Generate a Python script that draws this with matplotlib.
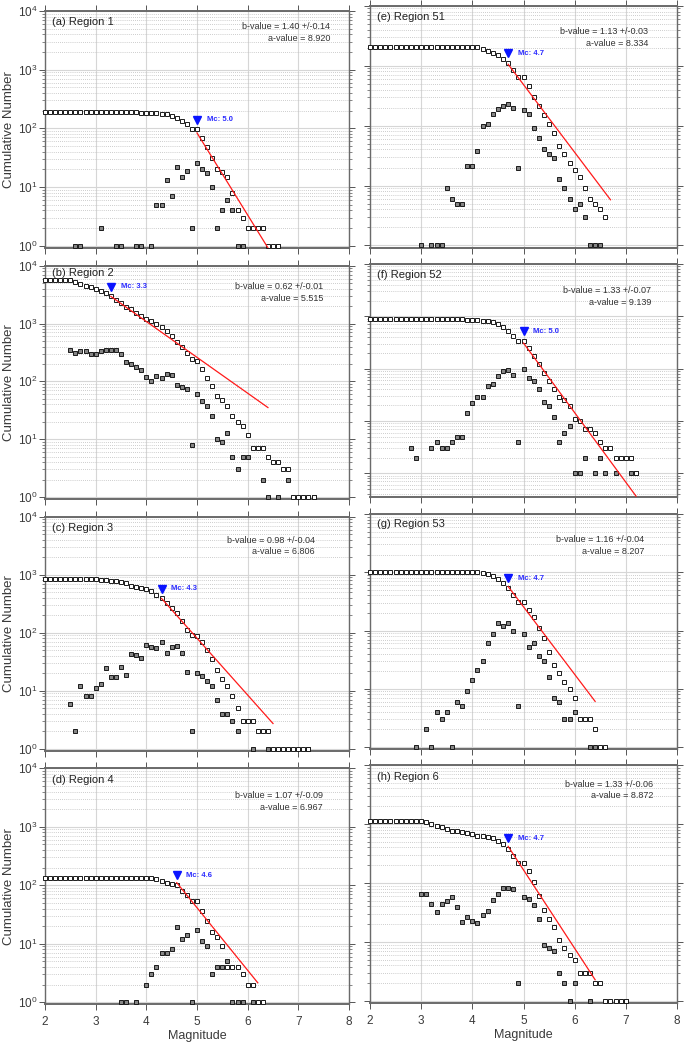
import matplotlib
matplotlib.use('Agg')
import matplotlib.pyplot as plt
import numpy as np
from matplotlib.ticker import FixedLocator, FixedFormatter, LogLocator, NullFormatter

plt.rcParams['font.family'] = ['Liberation Sans', 'DejaVu Sans']
plt.rcParams['mathtext.fontset'] = 'custom'
plt.rcParams['mathtext.rm'] = 'Liberation Sans'
plt.rcParams['mathtext.it'] = 'Liberation Sans:italic'
plt.rcParams['mathtext.bf'] = 'Liberation Sans:bold'
plt.rcParams['mathtext.default'] = 'regular'

# ---------------- data ----------------
titles = ['(a) Region 1', '(b) Region 2', '(c) Region 3', '(d) Region 4',
          '(e) Region 51', '(f) Region 52', '(g) Region 53', '(h) Region 6']
b_values = [1.40, 0.62, 0.98, 1.07, 1.13, 1.33, 1.16, 1.33]
b_errors = [0.14, 0.01, 0.04, 0.09, 0.03, 0.07, 0.04, 0.06]
a_values = [8.920, 5.515, 6.806, 6.967, 8.334, 9.139, 8.207, 8.872]
mc_values = [5.0, 3.3, 4.3, 4.6, 4.7, 5.0, 4.7, 4.7]
mc_marker_n = [140, 4300, 577, 148, 1600, 520, 790, 570]
fit_end = [6.4, 6.4, 6.5, 6.2, 6.7, 7.2, 6.4, 6.4]

# (a) Region 1
cum_a_m = [2.0,2.1,2.2,2.3,2.4,2.5,2.6,2.7,2.8,2.9,3.0,3.1,3.2,3.3,3.4,3.5,3.6,3.7,3.8,3.9,
           4.0,4.1,4.2,4.3,4.4,4.5,4.6,4.7,4.8,4.9,5.0,5.1,5.2,5.3,5.4,5.5,5.6,5.7,5.8,5.9,
           6.0,6.1,6.2,6.3,6.4,6.5,6.6]
cum_a_n = [190,190,190,190,190,190,190,189,189,189,189,187,187,187,187,186,186,186,186,185,
           185,184,180,176,172,160,152,133,118,98,96,68,48,31,20,18,15,8,4,3,
           2,2,2,2,1,1,1]
inc_a_m = [2.6,2.7,3.1,3.4,3.5,3.8,3.9,4.1,4.2,4.3,4.4,4.5,4.6,4.7,4.8,4.9,5.0,5.1,5.2,5.3,
           5.4,5.5,5.6,5.7,5.8,5.9,6.6]
inc_a_n = [1,1,2,1,1,1,1,1,5,5,13,7,22,15,19,2,26,20,17,10,2,4,6,4,1,1,1]

# (b) Region 2
cum_b_m = [2.0,2.1,2.2,2.3,2.4,2.5,2.6,2.7,2.8,2.9,3.0,3.1,3.2,3.3,3.4,3.5,3.6,3.7,3.8,3.9,
           4.0,4.1,4.2,4.3,4.4,4.5,4.6,4.7,4.8,4.9,5.0,5.1,5.2,5.3,5.4,5.5,5.6,5.7,5.8,5.9,
           6.0,6.1,6.2,6.3,6.4,6.5,6.6,6.7,6.8,6.9,7.0,7.1,7.2,7.3]
cum_b_n = [5600,5600,5600,5600,5600,5600,5150,4750,4500,4200,3900,3650,3350,3050,2550,2250,1950,1750,1550,1350,
           1200,1090,1000,855,750,605,470,385,312,240,226,163,116,82,56,47,38,25,20,17,
           12,7,7,7,5,4,4,3,3,1,1,1,1,1]
inc_b_m = [2.5,2.6,2.7,2.8,2.9,3.0,3.1,3.2,3.3,3.4,3.5,3.6,3.7,3.8,3.9,4.0,4.1,4.2,4.3,4.4,
           4.5,4.6,4.7,4.8,4.9,5.0,5.1,5.2,5.3,5.4,5.5,5.6,5.7,5.8,5.9,6.0,6.3,6.4,6.6,6.8,7.3]
inc_b_n = [355,312,333,333,302,302,333,355,355,345,302,212,200,178,156,120,100,126,115,136,
           131,87,80,74,8,60,46,37,25,10,9,13,5,3,5,5,2,1,1,2,1]

# (c) Region 3
cum_c_m = [2.0,2.1,2.2,2.3,2.4,2.5,2.6,2.7,2.8,2.9,3.0,3.1,3.2,3.3,3.4,3.5,3.6,3.7,3.8,3.9,
           4.0,4.1,4.2,4.3,4.4,4.5,4.6,4.7,4.8,4.9,5.0,5.1,5.2,5.3,5.4,5.5,5.6,5.7,5.8,5.9,
           6.0,6.1,6.2,6.3,6.4,6.5,6.6,6.7,6.8,6.9,7.0,7.1,7.2]
cum_c_n = [860,860,860,860,860,860,860,860,840,840,840,820,820,780,780,745,720,650,620,595,
           565,515,455,400,327,272,215,158,113,90,88,68,50,35,23,16,12,8,5,3,
           3,3,2,2,2,1,1,1,1,1,1,1,1]
inc_c_m = [2.5,2.6,2.7,2.8,2.9,3.0,3.1,3.2,3.3,3.4,3.5,3.6,3.7,3.8,3.9,4.0,4.1,4.2,4.3,4.4,
           4.5,4.6,4.7,4.8,4.9,5.0,5.1,5.2,5.3,5.4,5.5,5.6,5.7,5.8,6.1,6.4,7.2]
inc_c_n = [6,2,12,8,8,11,13,25,17,17,26,19,43,41,37,61,57,55,69,45,
           57,60,44,21,2,20,18,15,12,7,4,4,3,2,1,1,1]

# (d) Region 4
cum_d_m = [2.0,2.1,2.2,2.3,2.4,2.5,2.6,2.7,2.8,2.9,3.0,3.1,3.2,3.3,3.4,3.5,3.6,3.7,3.8,3.9,
           4.0,4.1,4.2,4.3,4.4,4.5,4.6,4.7,4.8,4.9,5.0,5.1,5.2,5.3,5.4,5.5,5.6,5.7,5.8,5.9,
           6.0,6.1,6.2,6.3]
cum_d_n = [134,134,134,134,134,134,134,134,134,134,134,134,134,134,134,134,134,134,134,134,
           134,132,126,119,111,107,100,80,67,54,54,36,25,16,13,9,4,4,4,3,
           2,2,1,1]
inc_d_m = [3.5,3.6,3.8,4.0,4.1,4.2,4.3,4.4,4.5,4.6,4.7,4.8,4.9,5.0,5.1,5.2,5.3,5.4,5.5,5.6,
           5.7,5.8,5.9,6.1]
inc_d_n = [1,1,1,2,3,4,7,7,8,19,12,14,1,17,11,9,3,4,4,5,1,1,1,1]

# (e) Region 51
cum_e_m = [2.0,2.1,2.2,2.3,2.4,2.5,2.6,2.7,2.8,2.9,3.0,3.1,3.2,3.3,3.4,3.5,3.6,3.7,3.8,3.9,
           4.0,4.1,4.2,4.3,4.4,4.5,4.6,4.7,4.8,4.9,5.0,5.1,5.2,5.3,5.4,5.5,5.6,5.7,5.8,5.9,
           6.0,6.1,6.2,6.3,6.4,6.5,6.6]
cum_e_n = [2050,2050,2050,2050,2050,2050,2050,2050,2050,2050,2050,2050,2050,2050,2050,2050,2050,2050,2050,2050,
           2050,2040,1880,1740,1630,1500,1285,1090,860,650,635,466,300,210,152,108,76,46,33,24,
           18,14,9,6,5,4,3]
inc_e_m = [3.0,3.2,3.3,3.4,3.5,3.6,3.7,3.8,3.9,4.0,4.1,4.2,4.3,4.4,4.5,4.6,4.7,4.8,4.9,5.0,
           5.1,5.2,5.3,5.4,5.5,5.6,5.7,5.8,5.9,6.0,6.1,6.2,6.3,6.4,6.5]
inc_e_n = [1,1,1,1,9,6,5,5,21,21,37,98,105,155,192,210,230,200,20,180,
           158,91,63,41,34,29,13,9,6,4,5,3,1,1,1]

# (f) Region 52
cum_f_m = [2.0,2.1,2.2,2.3,2.4,2.5,2.6,2.7,2.8,2.9,3.0,3.1,3.2,3.3,3.4,3.5,3.6,3.7,3.8,3.9,
           4.0,4.1,4.2,4.3,4.4,4.5,4.6,4.7,4.8,4.9,5.0,5.1,5.2,5.3,5.4,5.5,5.6,5.7,5.8,5.9,
           6.0,6.1,6.2,6.3,6.4,6.5,6.6,6.7,6.8,6.9,7.0,7.1,7.2]
cum_f_n = [890,890,890,890,890,890,890,890,890,875,875,875,875,875,875,875,875,875,875,865,
           860,850,830,800,770,700,620,515,415,345,345,245,176,123,82,58,41,29,25,19,
           11,10,7,7,6,4,3,3,2,2,2,2,1]
inc_f_m = [2.8,2.9,3.2,3.3,3.4,3.5,3.6,3.7,3.8,3.9,4.0,4.1,4.2,4.3,4.4,4.5,4.6,4.7,4.8,4.9,
           5.0,5.1,5.2,5.3,5.4,5.5,5.6,5.7,5.8,5.9,6.0,6.1,6.2,6.4,6.5,6.6,6.8,7.1,7.2]
inc_f_n = [3,2,3,4,3,3,4,5,5,14,22,29,29,47,51,71,92,95,75,4,
           98,67,57,41,23,19,12,4,6,8,1,1,2,1,2,1,1,1,1]

# (g) Region 53
cum_g_m = [2.0,2.1,2.2,2.3,2.4,2.5,2.6,2.7,2.8,2.9,3.0,3.1,3.2,3.3,3.4,3.5,3.6,3.7,3.8,3.9,
           4.0,4.1,4.2,4.3,4.4,4.5,4.6,4.7,4.8,4.9,5.0,5.1,5.2,5.3,5.4,5.5,5.6,5.7,5.8,5.9,
           6.0,6.1,6.2,6.3,6.4,6.5,6.6]
cum_g_n = [1000,1000,1000,1000,1000,1000,1000,1000,1000,1000,1000,1000,1000,1000,1000,1000,1000,1000,1000,1000,
           1000,1000,990,935,865,770,650,532,408,314,314,226,170,110,73,42,26,19,13,10,
           7,3,3,3,2,1,1]
inc_g_m = [2.9,3.1,3.2,3.3,3.4,3.5,3.6,3.7,3.8,3.9,4.0,4.1,4.2,4.3,4.4,4.5,4.6,4.7,4.8,4.9,
           5.0,5.1,5.2,5.3,5.4,5.5,5.6,5.7,5.8,5.9,6.0,6.3,6.4]
inc_g_n = [1,2,1,4,3,4,1,6,5,9,14,21,30,62,86,132,119,132,100,5,
           86,52,60,37,30,16,7,6,3,3,4,1,1]

# (h) Region 6
cum_h_m = [2.0,2.1,2.2,2.3,2.4,2.5,2.6,2.7,2.8,2.9,3.0,3.1,3.2,3.3,3.4,3.5,3.6,3.7,3.8,3.9,
           4.0,4.1,4.2,4.3,4.4,4.5,4.6,4.7,4.8,4.9,5.0,5.1,5.2,5.3,5.4,5.5,5.6,5.7,5.8,5.9,
           6.0,6.1,6.2,6.3,6.4,6.5,6.6,6.7,6.8,6.9,7.0]
cum_h_n = [1120,1120,1120,1120,1120,1120,1120,1120,1120,1120,1120,1065,1000,935,900,830,770,750,730,710,
           675,630,620,605,575,520,450,370,286,215,215,157,105,60,35,25,18,11,8,6,
           5,3,3,3,2,2,1,1,1,1,1]
inc_h_m = [3.0,3.1,3.2,3.3,3.4,3.5,3.6,3.7,3.8,3.9,4.0,4.1,4.2,4.3,4.4,4.5,4.6,4.7,4.8,4.9,
           5.0,5.1,5.2,5.3,5.4,5.5,5.6,5.7,5.8,5.9,6.0,6.3,7.0]
inc_h_n = [65,65,44,32,44,49,58,39,22,27,23,21,29,34,52,65,82,82,78,2,
           58,54,43,25,9,8,7,3,2,1,2,1,1]

cum_m = [cum_a_m, cum_b_m, cum_c_m, cum_d_m, cum_e_m, cum_f_m, cum_g_m, cum_h_m]
cum_n = [cum_a_n, cum_b_n, cum_c_n, cum_d_n, cum_e_n, cum_f_n, cum_g_n, cum_h_n]
inc_m = [inc_a_m, inc_b_m, inc_c_m, inc_d_m, inc_e_m, inc_f_m, inc_g_m, inc_h_m]
inc_n = [inc_a_n, inc_b_n, inc_c_n, inc_d_n, inc_e_n, inc_f_n, inc_g_n, inc_h_n]

x_ticks = [2, 3, 4, 5, 6, 7, 8]
y_ticks = [1, 10, 100, 1000, 10000]
y_ticklabels = [r'$10^{0}$', r'$10^{1}$', r'$10^{2}$', r'$10^{3}$', r'$10^{4}$']

# ---------------- layout (pixels) ----------------
W, H = 685, 1042
col_x = {'L': (45, 349), 'R': (370, 677)}
# col, top px (10^4), px of 10^0, lower y-limit
layout = [('L', 11.0, 245.5, 0.92), ('L', 265.7, 497.0, 0.92),
          ('L', 516.7, 748.8, 0.92), ('L', 768.3, 1002.3, 0.92),
          ('R', 5.7, 245.5, 0.92), ('R', 264.0, 473.3, 0.358),
          ('R', 514.0, 747.0, 0.92), ('R', 765.0, 1001.0, 0.92)]
# title dy, b-text dy, a-text dy (px below top), right edge px of stats text
text_pos = [(10.7, 15.7, 27.3, 330), (7.6, 21.0, 32.6, 323),
            (11.6, 24.0, 35.0, 315), (11.7, 27.7, 39.4, 322.7),
            (11.6, 26.0, 37.6, 648.3), (11.0, 26.7, 38.3, 651),
            (10.0, 26.0, 37.7, 644.3), (11.7, 19.3, 30.7, 653.3)]

fig = plt.figure(figsize=(W / 100, H / 100), dpi=100)

def fx(px):
    return px / W

def fy(py):
    return 1 - py / H

for i in range(8):
    col, top, zero, lo = layout[i]
    x0, x1 = col_x[col]
    dec = (zero - top) / 4.0
    bottom = zero + dec * (-np.log10(lo))
    ax = fig.add_axes([fx(x0), fy(bottom), (x1 - x0) / W, (bottom - top) / H])
    ax.set_xscale('linear')
    ax.set_yscale('log')
    ax.set_xlim(2, 8)
    ax.set_ylim(lo, 1e4)

    ax.grid(True, which='major', axis='both', color='#d6d6d6', lw=0.8, zorder=0)
    ax.grid(True, which='minor', axis='y', color='#bdbdbd', lw=0.6, ls=(0, (1, 1.5)), zorder=0)
    ax.set_axisbelow(True)

    ax.plot(inc_m[i], inc_n[i], ls='none', marker='s', ms=3.4, mfc='#858585',
            mec='#1a1a1a', mew=0.7, zorder=3, clip_on=False)
    ax.plot(cum_m[i], cum_n[i], ls='none', marker='s', ms=3.4, mfc='white',
            mec='#1a1a1a', mew=0.7, zorder=3, clip_on=False)

    mc = mc_values[i]
    fm = np.array([mc, fit_end[i]])
    ax.plot(fm, 10 ** (a_values[i] - b_values[i] * fm), color='#ff1a1a', lw=0.9, zorder=4)

    ax.plot([mc], [mc_marker_n[i]], ls='none', marker='v', ms=6, color='#0a14ff',
            mec='#0a14ff', zorder=5)
    ax.annotate('Mc: %.1f' % mc, xy=(mc, mc_marker_n[i]), xytext=(7, 0),
                textcoords='offset points', ha='left', va='center',
                fontsize=5.5, fontweight='bold', color='#2a2aff', zorder=6)

    ax.xaxis.set_major_locator(FixedLocator(x_ticks))
    ax.yaxis.set_major_locator(FixedLocator(y_ticks))
    ax.yaxis.set_minor_locator(LogLocator(base=10, subs=(2, 3, 4, 5, 6, 7, 8, 9), numticks=20))
    ax.yaxis.set_minor_formatter(NullFormatter())
    ax.tick_params(which='both', direction='out', top=True, right=True,
                   color='#555555', labelcolor='#3a3a3a', labelsize=8.5)
    ax.tick_params(which='major', length=4, width=0.7)
    ax.tick_params(which='minor', length=2.2, width=0.5)
    ax.tick_params(axis='x', pad=4.5)
    ax.tick_params(axis='y', pad=1.5)

    if col == 'L':
        ax.set_yticklabels(y_ticklabels)
        ax.set_ylabel('Cumulative Number', fontsize=9.5, color='#3a3a3a', labelpad=2)
    else:
        ax.set_yticklabels([])
    if i in (3, 7):
        ax.set_xticklabels([str(v) for v in x_ticks])
        ax.set_xlabel('Magnitude', fontsize=9, color='#3a3a3a', labelpad=1.5)
    else:
        ax.set_xticklabels([])

    for s in ax.spines.values():
        s.set_color('#6a6a6a')
        s.set_linewidth(1.0)
    ax.spines['top'].set_linewidth(1.4)
    ax.spines['bottom'].set_linewidth(1.4)

    tdy, bdy, ady, rx = text_pos[i]
    fig.text(fx(x0 + 7), fy(top + tdy), titles[i], fontsize=8, color='#222222',
             ha='left', va='center')
    fig.text(fx(rx), fy(top + bdy), 'b-value = %.2f +/-%.2f' % (b_values[i], b_errors[i]),
             fontsize=6.5, color='#333333', ha='right', va='center')
    fig.text(fx(rx), fy(top + ady), 'a-value = %.3f' % a_values[i],
             fontsize=6.5, color='#333333', ha='right', va='center')

fig.savefig('out.png', dpi=100, facecolor='white')
